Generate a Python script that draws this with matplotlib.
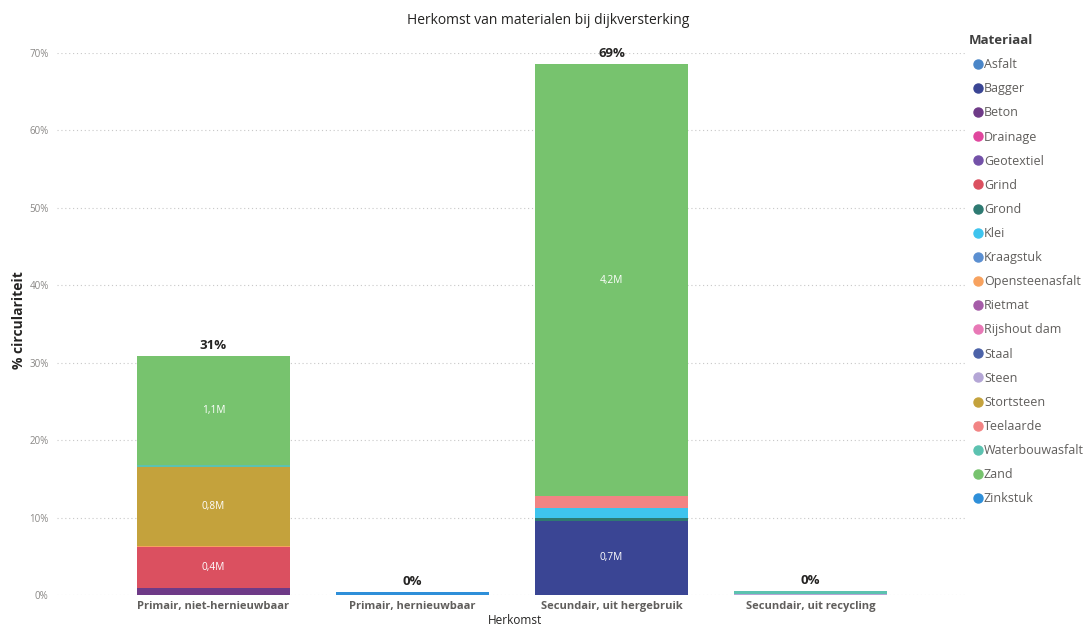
import numpy as np
import matplotlib
matplotlib.use('Agg')
from matplotlib import pyplot as plt
from matplotlib.lines import Line2D

plt.rcParams['font.family'] = ['Open Sans', 'DejaVu Sans']

# Data
categories = ['Primair, niet-hernieuwbaar', 'Primair, hernieuwbaar',
              'Secundair, uit hergebruik', 'Secundair, uit recycling']
materials = ['Asfalt', 'Bagger', 'Beton', 'Drainage', 'Geotextiel', 'Grind', 'Grond',
             'Klei', 'Kraagstuk', 'Opensteenasfalt', 'Rietmat', 'Rijshout dam', 'Staal',
             'Steen', 'Stortsteen', 'Teelaarde', 'Waterbouwasfalt', 'Zand', 'Zinkstuk']
colors = ['#4A86C8', '#3A4594', '#6E3A87', '#E0479E', '#7351A8', '#DB5060', '#2E7A72',
          '#3EC4EE', '#5B8FD1', '#F7A25F', '#A55CA8', '#E878B6', '#4C62A8',
          '#B4A6D6', '#C4A23C', '#F28484', '#5CC2B0', '#77C36E', '#2E8FD9']
# % circulariteit per materiaal, per herkomst
values = [
    [0, 0, 0, 0],          # Asfalt
    [0, 0, 9.6, 0],        # Bagger
    [0.85, 0, 0, 0],       # Beton
    [0, 0, 0, 0],          # Drainage
    [0, 0, 0, 0],          # Geotextiel
    [5.3, 0, 0, 0],        # Grind
    [0, 0, 0.3, 0],        # Grond
    [0, 0, 1.35, 0],       # Klei
    [0, 0, 0, 0],          # Kraagstuk
    [0.13, 0, 0, 0],       # Opensteenasfalt
    [0, 0, 0, 0],          # Rietmat
    [0, 0, 0, 0],          # Rijshout dam
    [0, 0, 0, 0],          # Staal
    [0, 0, 0, 0.15],       # Steen
    [10.2, 0, 0, 0],       # Stortsteen
    [0, 0, 1.5, 0],        # Teelaarde
    [0.35, 0, 0, 0.35],    # Waterbouwasfalt
    [14.0, 0, 55.8, 0],    # Zand
    [0, 0.35, 0, 0],       # Zinkstuk
]
# data labels (hoeveelheden)
seg_labels = {
    ('Grind', 0): '0,4M',
    ('Stortsteen', 0): '0,8M',
    ('Zand', 0): '1,1M',
    ('Bagger', 2): '0,7M',
    ('Zand', 2): '4,2M',
}

W, H = 1089, 626
fig = plt.figure(figsize=(W / 100, H / 100), dpi=100)
ax = fig.add_axes([57 / W, 1 - 595 / H, (965 - 57) / W, (595 - 53) / H])

x = np.arange(len(categories))
bottom = np.zeros(len(categories))
for mat, col, vals in zip(materials, colors, values):
    vals = np.array(vals, dtype=float)
    ax.bar(x, vals, bottom=bottom, width=0.77, color=col, zorder=3)
    for i, v in enumerate(vals):
        lab = seg_labels.get((mat, i))
        if lab:
            ax.text(x[i], bottom[i] + v / 2, lab, color='white', ha='center',
                    va='center', fontsize=7.3, zorder=4)
    bottom += vals

for i, tot in enumerate(bottom):
    ax.annotate(f'{tot:.0f}%', (x[i], tot), xytext=(0, 3), textcoords='offset points',
                ha='center', va='bottom', fontsize=9.5, fontweight='bold',
                color='#252423', annotation_clip=False, zorder=5)

# Formatting
ax.set_xlim(-0.786, 3.776)
ax.set_ylim(0, 70)
ax.set_yticks(range(0, 71, 10))
ax.set_yticklabels([f'{t}%' for t in range(0, 71, 10)], fontsize=7, color='#8A8886')
ax.set_xticks(x)
ax.set_xticklabels(categories, fontsize=8, fontweight='bold', color='#605E5C')
ax.tick_params(axis='both', length=0)
ax.tick_params(axis='y', pad=6)
ax.tick_params(axis='x', pad=4)
ax.grid(axis='y', color='#C8C8C8', linestyle=(0, (1, 2.5)), linewidth=0.8, zorder=0)
for s in ax.spines.values():
    s.set_visible(False)

fig.text(548 / W, 1 - 20 / H, 'Herkomst van materialen bij dijkversterking',
         ha='center', va='center', fontsize=10, color='#252423')
fig.text(515 / W, 1 - 621 / H, 'Herkomst', ha='center', va='center',
         fontsize=8.5, color='#252423')
fig.text(19 / W, 1 - 320 / H, '% circulariteit', rotation=90, ha='center',
         va='center', fontsize=10, fontweight='bold', color='#252423')

handles = [Line2D([], [], marker='o', linestyle='', markersize=6.5, color=c) for c in colors]
leg = fig.legend(handles, materials, title='Materiaal', loc='upper left',
                 bbox_to_anchor=(964 / W, 1 - 29 / H), frameon=False, fontsize=9,
                 title_fontproperties={'size': 9.5, 'weight': 'bold'},
                 handletextpad=-0.3, labelspacing=0.89, handlelength=1.5,
                 borderaxespad=0, alignment='left')
for t in leg.get_texts():
    t.set_color('#605E5C')
leg.get_title().set_color('#404040')

plt.savefig('out.png', dpi=100)
